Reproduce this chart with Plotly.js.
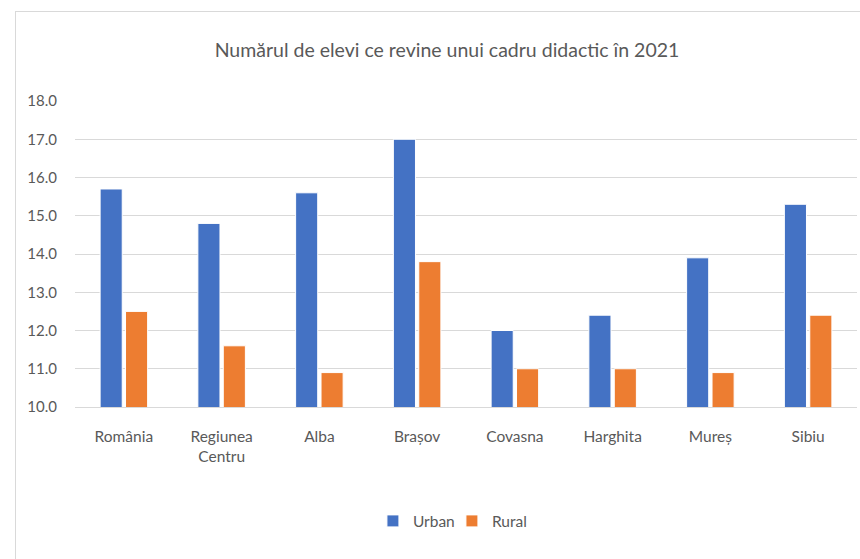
<!DOCTYPE html>
<html>
<head>
<meta charset="utf-8">
<script src="https://cdn.plot.ly/plotly-3.0.1.min.js"></script>
<style>
  html, body { margin: 0; padding: 0; background: #fff; }
  #frame { position: absolute; left: 15px; top: 11px; width: 860px; height: 560px;
           border-left: 1px solid #d9d9d9; border-top: 1px solid #d9d9d9; pointer-events: none; z-index: 2; }
  #chart { position: absolute; left: 0; top: 0; width: 860px; height: 559px; }
</style>
</head>
<body>
<div id="chart"></div>
<div id="frame"></div>
<script>
const categories = ["România", "Regiunea<br>Centru", "Alba", "Brașov", "Covasna", "Harghita", "Mureș", "Sibiu"];
const urbanValues = [15.7, 14.8, 15.6, 17.0, 12.0, 12.4, 13.9, 15.3];
const ruralValues = [12.5, 11.6, 10.9, 13.8, 11.0, 11.0, 10.9, 12.4];
const yTicks = [10, 11, 12, 13, 14, 15, 16, 17, 18];

const textColor = "#595959";
const baseFont = "Lato, 'Open Sans', sans-serif";

const traces = [
  {
    type: "bar",
    name: "Urban",
    x: categories,
    y: urbanValues,
    marker: { color: "#4472c4", line: { color: "#ffffff", width: 1 } },
    hoverinfo: "y",
  },
  {
    type: "bar",
    name: "Rural",
    x: categories,
    y: ruralValues,
    marker: { color: "#ed7d31", line: { color: "#ffffff", width: 1 } },
    hoverinfo: "y",
  },
];

const layout = {
  width: 860,
  height: 559,
  margin: { l: 74.5, r: 2.5, t: 101, b: 151.5 },
  paper_bgcolor: "#ffffff",
  plot_bgcolor: "#ffffff",
  font: { family: baseFont, color: textColor, size: 15 },
  title: {
    text: "Numărul de elevi ce revine unui cadru didactic în 2021",
    font: { family: baseFont, size: 19.5, color: textColor },
    x: 447 / 860,
    xanchor: "center",
    y: 1 - 50 / 559,
    yanchor: "middle",
  },
  barmode: "group",
  bargap: 0.48,
  bargroupgap: 0.13,
  xaxis: {
    type: "category",
    showgrid: false,
    showline: true,
    linecolor: "#d9d9d9",
    linewidth: 1,
    ticks: "",
    ticklabelstandoff: 15,
    tickfont: { family: baseFont, size: 15.5, color: textColor },
    fixedrange: true,
  },
  yaxis: {
    range: [10, 18],
    tickvals: yTicks,
    tickformat: ".1f",
    showgrid: true,
    gridcolor: "#d9d9d9",
    gridwidth: 1,
    zeroline: false,
    showline: false,
    ticks: "",
    ticklabelstandoff: 17,
    tickfont: { family: baseFont, size: 15, color: textColor },
    fixedrange: true,
  },
  showlegend: true,
  legend: {
    orientation: "h",
    x: 0.482,
    xanchor: "center",
    y: -0.3736,
    yanchor: "middle",
    font: { family: baseFont, size: 15.5, color: textColor },
    itemwidth: 30,
    entrywidth: 34,
    entrywidthmode: "pixels",
    traceorder: "normal",
  },
};

Plotly.newPlot("chart", traces, layout, { displayModeBar: false, staticPlot: true });
</script>
</body>
</html>
